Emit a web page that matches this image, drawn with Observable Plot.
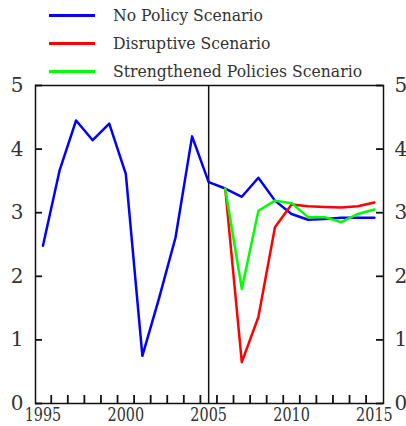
<!DOCTYPE html>
<html>
<head>
<meta charset="utf-8">
<script src="https://cdn.jsdelivr.net/npm/d3@7"></script>
<script src="https://cdn.jsdelivr.net/npm/@observablehq/plot@0.6"></script>
<style>
  html, body { margin: 0; padding: 0; background: #fff; }
  #wrap { position: relative; width: 406px; height: 426px; font-family: 'DejaVu Serif', serif; }
  #legend { position: relative; height: 70px; }
  .item { position: absolute; left: 0; height: 20px; }
  .sw { position: absolute; left: 49px; width: 46px; height: 3px; top: 9px; }
  .lab { position: absolute; left: 113px; top: -1px; font-size: 17px; color: #333; white-space: nowrap; line-height: 22px; transform: scaleX(0.92); transform-origin: 0 50%; }
  svg { display: block; }
</style>
</head>
<body>
<div id="wrap"><div id="legend"></div><div id="chart"></div></div>
<script>
const seriesNames = ["No Policy Scenario", "Disruptive Scenario", "Strengthened Policies Scenario"];
const seriesColors = ["#0000ff", "#ff0000", "#00ff00"];

const noPolicyYears = [1995,1996,1997,1998,1999,2000,2001,2002,2003,2004,2005,2006,2007,2008,2009,2010,2011,2012,2013,2014,2015];
const noPolicy = [2.48,3.66,4.45,4.14,4.40,3.61,0.75,1.65,2.61,4.20,3.48,3.38,3.25,3.55,3.19,2.98,2.89,2.90,2.92,2.92,2.92];

const scenarioYears = [2006,2007,2008,2009,2010,2011,2012,2013,2014,2015];
const disruptive = [3.38,0.65,1.36,2.77,3.13,3.10,3.09,3.08,3.10,3.16];
const strengthened = [3.38,1.80,3.03,3.19,3.15,2.93,2.93,2.85,2.98,3.05];

const xLabelTicks = [1995, 2000, 2005, 2010, 2015];
const xMinorTicks = [1995.5,1996.5,1997.5,1998.5,1999.5,2000.5,2001.5,2002.5,2003.5,2004.5,2005.5,2006.5,2007.5,2008.5,2009.5,2010.5,2011.5,2012.5,2013.5,2014.5];
const yTicks = [0, 1, 2, 3, 4, 5];
const dividerYear = [2005];

// legend
const legend = document.getElementById("legend");
const rowTops = [5, 33, 61];
seriesNames.forEach((name, i) => {
  const item = document.createElement("div");
  item.className = "item";
  item.style.top = rowTops[i] + "px";
  item.innerHTML = `<div class="sw" style="background:${seriesColors[i]}"></div><div class="lab">${name}</div>`;
  legend.appendChild(item);
});

const rows = [];
noPolicyYears.forEach((y, i) => rows.push({year: y, value: noPolicy[i], s: seriesNames[0]}));
scenarioYears.forEach((y, i) => rows.push({year: y, value: disruptive[i], s: seriesNames[1]}));
scenarioYears.forEach((y, i) => rows.push({year: y, value: strengthened[i], s: seriesNames[2]}));

const font = "DejaVu Serif";
const fmt = d => String(d);

const W = 406, H = 356, mT = 15, mB = 23, mL = 35, mR = 23;
const frameW = W - mL - mR, frameH = H - mT - mB;

const chart = Plot.plot({
  width: W,
  height: H,
  marginTop: mT,
  marginBottom: mB,
  marginLeft: mL,
  marginRight: mR,
  style: {fontFamily: font, color: "#333"},
  x: {domain: [1994.55, 2015.55]},
  y: {domain: [0, 5]},
  color: {domain: seriesNames, range: seriesColors},
  marks: [
    Plot.ruleX(dividerYear, {stroke: "#111", strokeWidth: 1.5}),
    Plot.line(rows, {x: "year", y: "value", z: "s", stroke: "s", strokeWidth: 2.5}),
    // inward ticks
    Plot.tickX(xMinorTicks, {x: d => d, insetTop: frameH - 8, stroke: "#111", strokeWidth: 1.8}),
    Plot.tickY(yTicks, {y: d => d, insetRight: frameW - 7, stroke: "#111", strokeWidth: 1.8}),
    Plot.tickY(yTicks, {y: d => d, insetLeft: frameW - 7, stroke: "#111", strokeWidth: 1.8}),
    // labels
    Plot.axisX({ticks: xLabelTicks, tickSize: 0, tickPadding: 5, tickFormat: fmt, anchor: "bottom", fontSize: 18, fontFamily: font, fill: "#333", label: null}),
    Plot.axisY({ticks: yTicks, tickSize: 0, tickPadding: 12, tickFormat: fmt, anchor: "left", fontSize: 20, fontFamily: font, fill: "#333", label: null}),
    Plot.axisY({ticks: yTicks, tickSize: 0, tickPadding: 11, tickFormat: fmt, anchor: "right", fontSize: 20, fontFamily: font, fill: "#333", label: null}),
    Plot.frame({stroke: "#111", strokeWidth: 1.5})
  ]
});
// condense the year labels a little, like the reference
d3.select(chart).selectAll('g[aria-label="x-axis tick label"] text').each(function() {
  const t = this.getAttribute("transform") || "";
  this.setAttribute("transform", t + " scale(0.8,1)");
});
document.getElementById("chart").appendChild(chart);
</script>
</body>
</html>
